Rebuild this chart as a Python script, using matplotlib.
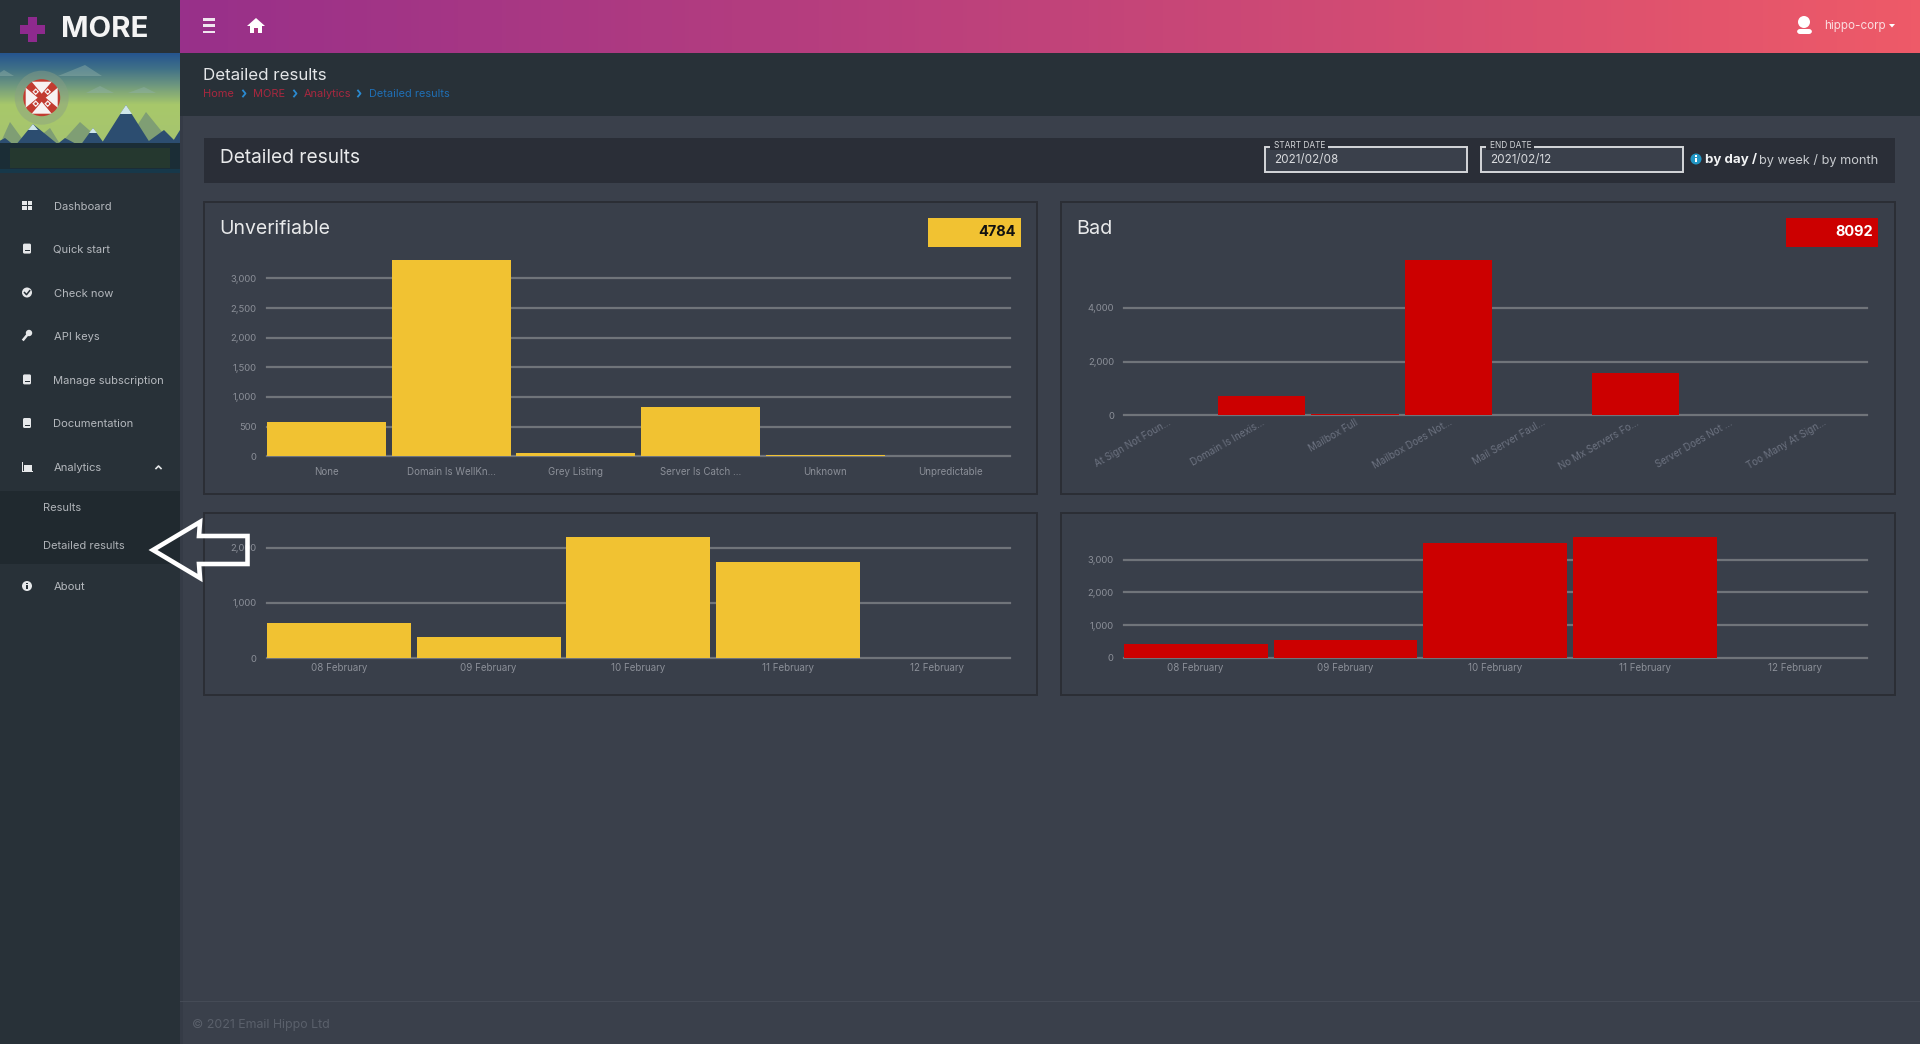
import numpy as np
import matplotlib
matplotlib.use("Agg")
import matplotlib.pyplot as plt
from matplotlib.patches import Rectangle, Polygon, Circle, FancyBboxPatch
from matplotlib.ticker import FuncFormatter
from matplotlib.colors import LinearSegmentedColormap

plt.rcParams['font.family'] = ['Inter', 'DejaVu Sans']

# ---- data ----
unverifiable_reasons = ["None", "Domain Is WellKn...", "Grey Listing", "Server Is Catch ...", "Unknown", "Unpredictable"]
unverifiable_counts = [585, 3310, 50, 825, 14, 0]
unverifiable_total = "4784"
bad_reasons = ["At Sign Not Foun...", "Domain Is Inexis...", "Mailbox Full", "Mailbox Does Not...",
               "Mail Server Faul...", "No Mx Servers Fo...", "Server Does Not ...", "Too Many At Sign..."]
bad_counts = [0, 700, 30, 5780, 0, 1582, 0, 0]
bad_total = "8092"
days = ["08 February", "09 February", "10 February", "11 February", "12 February"]
unverifiable_by_day = [630, 385, 2195, 1745, 0]
bad_by_day = [428, 532, 3515, 3695, 0]
unverifiable_ticks = [0, 500, 1000, 1500, 2000, 2500, 3000]
bad_ticks = [0, 2000, 4000]
unverifiable_day_ticks = [0, 1000, 2000]
bad_day_ticks = [0, 1000, 2000, 3000]
menu_items = ["Dashboard", "Quick start", "Check now", "API keys", "Manage subscription",
              "Documentation", "Analytics", "About"]
submenu_items = ["Results", "Detailed results"]
crumbs = ["Home", "MORE", "Analytics", "Detailed results"]

# ---- colours ----
BG = "#3a404b"; SIDE = "#283138"; SUB = "#20292f"; CARD = "#2a2e37"; EDGE = "#2b2e35"
YEL = "#f1c232"; RED = "#cc0000"; GRID = "#70747a"; TICK = "#8b8f98"; ROT = "#6c7280"
W, H = 1920, 1044
TEXT_SHIFT = 1.2

fig = plt.figure(figsize=(19.2, 10.44), dpi=100, facecolor=BG)
ui = fig.add_axes([0, 0, 1, 1], zorder=0)
ui.set_xlim(0, W); ui.set_ylim(H, 0); ui.axis("off")


def rect(x0, y0, x1, y1, fc, ec="none", lw=0, z=1, a=None):
    ui.add_patch(Rectangle((x0, y0), x1 - x0, y1 - y0, fc=fc, ec=ec, lw=lw, zorder=z, alpha=a))


def txt(x, y, s, size, color="#ffffff", weight="normal", ha="left", z=5):
    return ui.text(x, y + TEXT_SHIFT, s, fontsize=size, color=color, fontweight=weight, ha=ha, va="center", zorder=z)


# ---- frame ----
rect(0, 0, 180, H, SIDE)
rect(180, 0, 183, H, "#343a44", z=0.5, a=0.7)
rect(0, 491, 180, 564, SUB)
rect(180, 53, W, 116, SIDE)
ramp = LinearSegmentedColormap.from_list("top", ["#98308a", "#c1437a", "#ee5a68"])
ui.imshow(np.linspace(0, 1, 400)[None, :], extent=(180, W, 53, 0), cmap=ramp, aspect="auto", zorder=2)
ui.set_xlim(0, W); ui.set_ylim(H, 0)
rect(180, 1001, W, 1002.2, "#454b56")
txt(192, 1024, "© 2021 Email Hippo Ltd", 8.9, "#5a606b")

# ---- logo ----
rect(27.5, 17, 37, 42, "#8e2a8e", z=3)
rect(20, 25, 45, 34, "#8e2a8e", z=3)
txt(61, 28.5, "MORE", 21.2, "#f4f4f4", "bold")

# ---- profile banner ----
sky = LinearSegmentedColormap.from_list("sky", [(0, "#26558f"), (0.16, "#3f7088"), (0.33, "#6a9480"),
                                                (0.56, "#a8c86a"), (1, "#a6c470")])
ui.imshow(np.linspace(0, 1, 100)[:, None], extent=(0, 180, 146, 53), cmap=sky, aspect="auto", zorder=2)
ui.set_xlim(0, W); ui.set_ylim(H, 0)
for pts in [[(58, 76), (85, 65), (102, 76)], [(86, 93), (100, 86), (114, 93)],
            [(128, 93), (144, 87), (156, 93)], [(-5, 76), (4, 70), (14, 76)]]:
    ui.add_patch(Polygon(pts, fc="#8fb0a8", ec="none", alpha=0.45, zorder=2.5))
for pts in [[(0, 144), (10, 122), (26, 144)], [(60, 144), (80, 122), (105, 144)],
            [(125, 144), (146, 112), (172, 144)], [(30, 144), (50, 128), (60, 144)]]:
    ui.add_patch(Polygon(pts, fc="#7f9e74", ec="none", zorder=3))
for pts in [[(-10, 146), (5, 138), (15, 146)], [(15, 146), (33, 124), (60, 146)],
            [(55, 146), (65, 138), (80, 146)], [(80, 146), (93, 128), (106, 146)],
            [(100, 146), (126, 105), (152, 146)], [(142, 146), (164, 130), (180, 146)],
            [(170, 146), (180, 130), (180, 146)]]:
    ui.add_patch(Polygon(pts, fc="#2c4d70", ec="none", zorder=3.2))
for pts in [[(28, 130), (33, 124), (38, 130)], [(120, 114), (126, 105), (132, 114)], [(89, 133), (93, 128), (97, 133)]]:
    ui.add_patch(Polygon(pts, fc="#cfe6ea", ec="none", zorder=3.4))
rect(0, 143, 180, 173, "#1b2d36", z=3.5)
rect(10, 148, 170, 168, "#25382f", z=3.6)
rect(0, 169, 180, 173, "#17384a", z=3.6)
ui.add_patch(Circle((41.7, 97.7), 27, fc="#8a9f86", ec="none", alpha=0.45, zorder=3.7))
ui.add_patch(Circle((41.7, 97.7), 18.5, fc="#c23b30", ec="none", zorder=3.8))
for ang in (0, 90, 180, 270):
    c, s = np.cos(np.radians(ang)), np.sin(np.radians(ang))
    tri = [(-10, -16), (10, -16), (0, -4)]
    ui.add_patch(Polygon([(41.7 + c * a - s * b, 97.7 + s * a + c * b) for a, b in tri],
                         fc="#f7f2f2", ec="none", zorder=3.9))
for dx, dy in [(6, 6), (6, -6), (-6, 6), (-6, -6)]:
    ui.add_patch(Polygon([(41.7 + dx + 3.4, 97.7 + dy), (41.7 + dx, 97.7 + dy + 3.4),
                          (41.7 + dx - 3.4, 97.7 + dy), (41.7 + dx, 97.7 + dy - 3.4)],
                         fc="#f7f2f2", ec="none", zorder=3.9))
    ui.add_patch(Circle((41.7 + dx, 97.7 + dy), 1.3, fc="#c23b30", ec="none", zorder=3.95))

# ---- top bar items ----
for yy in (19.5, 25.7, 32):
    rect(203, yy - 1.3, 215, yy + 1.3, "#f0e6ef", z=4)
ui.add_patch(Polygon([(247, 26), (256, 18), (265, 26)], fc="white", ec="none", zorder=4))
rect(250, 26, 262, 33, "white", z=4)
rect(254, 28, 258, 33, "#a8357f", z=4.1)
ui.add_patch(Circle((1804, 22), 6, fc="white", ec="none", zorder=4))
ui.add_patch(FancyBboxPatch((1797, 29), 15, 5, boxstyle="round,pad=0,rounding_size=3", fc="white", ec="none", zorder=4))
txt(1824, 24.8, "hippo-corp", 8.4, "#fbdfe2")
ui.add_patch(Polygon([(1889, 24), (1895, 24), (1892, 27.5)], fc="white", ec="none", zorder=4))

# ---- sidebar ----
menu_y = [205.6, 248.6, 292.5, 335.3, 379.4, 423, 467, 585.7]
menu_x = [54, 52.7, 54, 54, 52.7, 52.7, 54, 54]
for x, y, s in zip(menu_x, menu_y, menu_items):
    txt(x, y, s, 8.05, "#b4b8bd")
for y, s in zip([507, 545], submenu_items):
    txt(43, y, s, 8.0, "#b0b4b9")


def book(y):
    ui.add_patch(FancyBboxPatch((23, y - 5), 8, 10, boxstyle="round,pad=0,rounding_size=1.5", fc="#e6e8ea", ec="none", zorder=4))
    rect(24.5, y + 1.5, 29.5, y + 2.7, SIDE, z=4.1)


for dx, dy in [(-5, -4.5), (0.5, -4.5), (-5, 0.5), (0.5, 0.5)]:
    rect(27 + dx, 205.6 + dy, 27 + dx + 4.5, 205.6 + dy + 4, "#e6e8ea", z=4)
book(248.6); book(379.4); book(423)
ui.add_patch(Circle((27, 292.5), 5, fc="#e6e8ea", ec="none", zorder=4))
ui.plot([24.5, 26.5, 29.7], [292.5, 294.7, 290.7], color=SIDE, lw=1.1, zorder=4.1)
ui.add_patch(Circle((29, 333), 3.2, fc="#e6e8ea", ec="none", zorder=4))
ui.plot([23.5, 28], [339.5, 334], color="#e6e8ea", lw=1.8, zorder=4)
rect(22, 462, 23, 472, "#e6e8ea", z=4); rect(22, 471, 33, 472, "#e6e8ea", z=4)
rect(24, 465, 32, 470.5, "#e6e8ea", z=4)
ui.plot([156, 158.5, 161], [468.5, 466, 468.5], color="#e6e8ea", lw=1.2, zorder=4)
ui.add_patch(Circle((27, 586), 5, fc="#e6e8ea", ec="none", zorder=4))
rect(26.4, 585, 27.6, 589, SIDE, z=4.1); rect(26.4, 582.6, 27.6, 584, SIDE, z=4.1)

# ---- page heading ----
txt(203, 74.5, "Detailed results", 12.2, "#e4e6e8")
crumb_x = [203, 253.5, 304, 368.6]
crumb_col = ["#a8283f", "#a8283f", "#a8283f", "#1f6fb5"]
for x, s, c in zip(crumb_x, crumbs, crumb_col):
    txt(x, 92.5, s, 7.9, c)
for sx in (243, 294, 358):
    ui.plot([sx, sx + 2.5, sx], [90.5, 93.5, 96.5], color="#2a8ad0", lw=1.3, zorder=5)

# ---- header card ----
rect(204, 138, 1894.6, 183, CARD)
txt(220, 156.5, "Detailed results", 13.8, "#e8e9ea")
for x0, x1, lab, val in [(1265, 1466.5, "START DATE", "2021/02/08"), (1481, 1683, "END DATE", "2021/02/12")]:
    rect(x0, 147, x1, 172, BG, "#d5d7da", 1.4, z=3)
    rect(x0 + 5, 143, x0 + 63 if lab[0] == "S" else x0 + 53, 150, CARD, z=3.5)
    txt(x0 + 9, 144.5, lab, 6.0, "#d5d7da")
    txt(x0 + 9, 158.5, val, 8.4, "#d9dbde")
ui.add_patch(Circle((1696, 159), 5.5, fc="#2196c4", ec="none", zorder=4))
rect(1695.4, 158, 1696.6, 162, "white", z=4.1); rect(1695.4, 155.4, 1696.6, 156.8, "white", z=4.1)
txt(1705, 158.5, "by day /", 9.6, "#f2f3f4", "bold")
txt(1759, 159, "by week / by month", 9.2, "#c9ccd0")

# ---- panels ----
panels = [(204, 202, 1036.5, 493.5), (1061, 202, 1894.6, 493.5), (204, 513, 1036.5, 695), (1061, 513, 1894.6, 695)]
for x0, y0, x1, y1 in panels:
    rect(x0, y0, x1, y1, "#393f4a", EDGE, 1.4, z=2)
txt(219.5, 228.2, "Unverifiable", 14, "#e8e9ea")
txt(1076, 228.2, "Bad", 14.3, "#e8e9ea")
rect(928, 218, 1021, 246.7, YEL, z=3)
txt(1016, 231, unverifiable_total, 10.5, "#111111", "bold", ha="right")
rect(1786, 218, 1877.5, 246.5, RED, z=3)
txt(1873, 231, bad_total, 10.5, "#ffffff", "bold", ha="right")


def chart(px_left, px_right, px_zero, px_top, labels, values, ticks, color, pad_frac, xpad, rotated=False):
    ax = fig.add_axes([px_left / W, 1 - px_zero / H, (px_right - px_left) / W, (px_zero - px_top) / H], zorder=2)
    ax.patch.set_alpha(0)
    x = np.arange(len(labels))
    bar_w = 1 - pad_frac
    ax.bar(x, values, width=bar_w, color=color, zorder=3)
    ax.set_xlim(-bar_w / 2, len(labels) - 1 + bar_w / 2)
    ax.set_ylim(0, max(values))
    ax.set_yticks(ticks)
    ax.yaxis.set_major_formatter(FuncFormatter(lambda v, _: f"{int(v):,}"))
    ax.set_xticks(x)
    ax.set_xticklabels(labels)
    ax.grid(axis="y", color=GRID, lw=1.6, zorder=1)
    ax.grid(axis="x", visible=False)
    ax.set_axisbelow(True)
    for s in ax.spines.values():
        s.set_visible(False)
    ax.tick_params(axis="y", length=0, pad=7.5, labelsize=6.8, labelcolor=TICK)
    ax.tick_params(axis="x", length=0, pad=xpad, labelsize=7.0, labelcolor=TICK)
    for g in ax.get_ygridlines():
        g.set_clip_on(False)
    if rotated:
        for t in ax.get_xticklabels():
            t.set(rotation=30, ha="right", va="top", rotation_mode="anchor", color=ROT)
    return ax


chart(267, 1009.5, 456.3, 260, unverifiable_reasons, unverifiable_counts, unverifiable_ticks, YEL, 0.046, 8)
chart(1124.4, 1866.5, 415.2, 260.2, bad_reasons, bad_counts, bad_ticks, RED, 0.067, 1.5, rotated=True)
chart(267, 1009.5, 658, 537, days, unverifiable_by_day, unverifiable_day_ticks, YEL, 0.037, 3.5)
chart(1123.8, 1866.5, 657.9, 537, days, bad_by_day, bad_day_ticks, RED, 0.04, 3.5)

# ---- arrow annotation ----
over = fig.add_axes([0, 0, 1, 1], zorder=5)
over.set_xlim(0, W); over.set_ylim(H, 0); over.axis("off"); over.patch.set_alpha(0)
over.add_patch(Polygon([(153, 550), (200, 522), (199, 536), (247.5, 536), (247.5, 564), (199, 564), (200, 578)],
                       closed=True, fc="none", ec="white", lw=3.3, joinstyle="miter"))

fig.savefig("out.png", dpi=100, facecolor=BG)
